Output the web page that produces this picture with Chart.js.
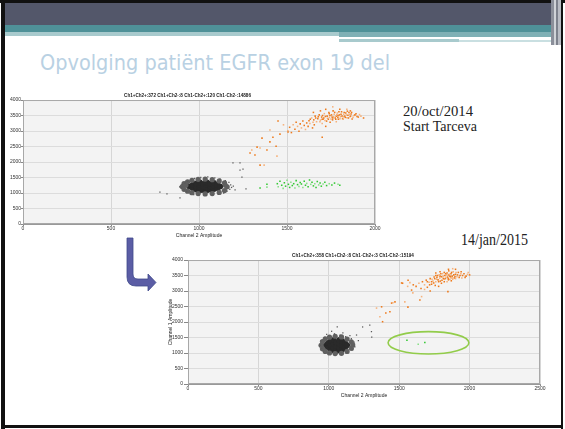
<!DOCTYPE html>
<html>
<head>
<meta charset="utf-8">
<script src="https://cdn.jsdelivr.net/npm/chart.js@4.4.0/dist/chart.umd.min.js"></script>
<style>
  body { margin: 0; width: 565px; height: 429px; overflow: hidden; position: relative; background: #fff; }
  .deco { position: absolute; left: 0; top: 0; }
  #chart1 { position: absolute; left: 0; top: 91px; }
  #chart2 { position: absolute; left: 166px; top: 251px; }
</style>
</head>
<body>
<svg class="deco" width="565" height="429">
  <rect x="0" y="0" width="565" height="3" fill="#111"/>
  <rect x="4" y="3" width="548" height="22" fill="#53576a"/>
  <rect x="4" y="25" width="548" height="7" fill="#4f9198"/>
  <rect x="4" y="32" width="335" height="4" fill="#a8cacd"/>
  <rect x="339" y="32" width="212" height="5" fill="#7fb0b5"/>
  <rect x="339" y="37" width="187" height="1.5" fill="#fff"/>
  <rect x="339" y="39" width="120" height="3" fill="#a8cacd"/>
  <rect x="459" y="40" width="92" height="2" fill="#c9dfe1"/>
  <rect x="551" y="0" width="3" height="45" fill="#8b8f9a"/>
  <rect x="554" y="0" width="2" height="45" fill="#d0d3d8"/>
  <rect x="556" y="0" width="2" height="45" fill="#7d818c"/>
  <rect x="558" y="0" width="3" height="45" fill="#b9bcc4"/>
  <rect x="1" y="0" width="4" height="429" fill="#111"/>
  <rect x="561" y="0" width="2" height="429" fill="#111"/>
  <rect x="1" y="425" width="562" height="3" fill="#111"/>
  <text x="40" y="70" font-family="DejaVu Sans" font-size="21" fill="#b9d1e3"
        textLength="350" lengthAdjust="spacingAndGlyphs">Opvolging patiënt EGFR exon 19 del</text>
  <text x="403" y="116" font-family="Liberation Serif" font-size="14" fill="#222"
        textLength="70" lengthAdjust="spacingAndGlyphs">20/oct/2014</text>
  <text x="403" y="131" font-family="Liberation Serif" font-size="14" fill="#222"
        textLength="74" lengthAdjust="spacingAndGlyphs">Start Tarceva</text>
  <text x="461" y="245" font-family="Liberation Serif" font-size="16" fill="#222"
        textLength="67" lengthAdjust="spacingAndGlyphs">14/jan/2015</text>
  <path d="M127,238 L133,238 L133,274 Q133,279 138,279 L148,279 L148,274 L156,282.5 L148,291 L148,286 L136,286 Q127,286 127,277 Z"
        fill="#5b5da5" stroke="#3f4a8a" stroke-width="0.8"/>
</svg>
<canvas id="chart1" width="390" height="149"></canvas>
<canvas id="chart2" width="382" height="149"></canvas>
<script>
// ---- chart 1 (20/oct/2014) ----
const title1 = 'Ch1+Ch2+:372 Ch1+Ch2-:8 Ch1-Ch2+:120 Ch1-Ch2-:14886';
const xMax1 = 2000;
const ch1BlackCore = [[945,1210],[965,1150],[965,1270],[985,1110],[985,1210],[985,1310],[1005,1090],[1005,1180],[1005,1270],[1005,1340],[1025,1100],[1025,1200],[1025,1290],[1045,1090],[1045,1180],[1045,1270],[1045,1340],[1065,1110],[1065,1210],[1065,1300],[1085,1130],[1085,1230],[1085,1320],[1105,1160],[1105,1260],[1120,1210]];
const ch1BlackHalo = [[905,1210],[915,1120],[915,1300],[935,1060],[935,1360],[960,1010],[960,1410],[995,980],[995,1440],[1035,970],[1035,1450],[1075,980],[1075,1430],[1115,1020],[1115,1390],[1145,1080],[1145,1330],[1160,1200],[925,1250],[1150,1250]];
const ch1BlackDots = [[890,1200],[900,1150],[905,1280],[915,1100],[920,1320],[930,1050],[935,1380],[950,980],[955,1430],[970,950],[975,1470],[1000,930],[1010,1500],[1040,920],[1050,1520],[1080,940],[1090,1490],[1110,960],[1120,1450],[1140,1000],[1150,1400],[1160,1060],[1170,1340],[1175,1120],[1180,1260],[1185,1180],[1195,1220],
  [778,1030],[818,970],[892,840],[1193,1970],[1233,1970],[1250,1770],[1244,1515],[1205,1100],[1267,1130],[1233,1740]];
const ch1Green = [[1347,1160],[1386,1190],[1386,1280],[1445,1300],[1450,1200],[1460,1380],[1470,1250],[1478,1150],[1485,1330],[1492,1220],[1500,1410],[1508,1280],[1515,1180],[1522,1350],[1530,1240],[1538,1300],[1545,1160],[1552,1400],[1560,1270],[1568,1210],[1575,1340],[1582,1290],[1590,1180],[1598,1380],[1605,1250],[1612,1310],[1620,1200],[1628,1420],[1635,1280],[1642,1350],[1650,1230],[1658,1300],[1665,1180],[1672,1370],[1680,1260],[1688,1320],[1695,1220],[1705,1290],[1715,1350],[1725,1240],[1740,1300],[1755,1260],[1770,1320],[1790,1280],[1800,1250]];
const ch1Orange = [[1625,3330],[1640,3420],[1652,3360],[1660,3480],[1668,3300],[1675,3400],[1683,3520],[1690,3350],[1697,3450],[1705,3380],[1712,3560],[1718,3470],[1725,3320],[1730,3410],[1738,3600],[1744,3500],[1750,3390],[1756,3450],[1762,3650],[1768,3540],[1774,3420],[1780,3480],[1786,3580],[1792,3380],[1798,3520],[1804,3460],[1810,3620],[1816,3400],[1822,3540],[1828,3480],[1834,3580],[1840,3430],[1846,3510],[1852,3600],[1858,3460],[1864,3550],[1870,3390],[1880,3500],[1892,3560],[1905,3450],[1920,3480],[1935,3420],
  [1632,3380],[1648,3280],[1663,3420],[1678,3460],[1687,3300],[1702,3500],[1709,3420],[1716,3340],[1728,3480],[1735,3380],[1741,3440],[1753,3520],[1759,3360],[1765,3460],[1771,3600],[1777,3380],[1783,3520],[1789,3440],[1795,3620],[1801,3400],[1807,3540],[1813,3480],[1819,3380],[1825,3600],[1831,3440],[1837,3520],[1843,3640],[1849,3420],[1855,3540],[1861,3480],[1867,3600],[1875,3440],[1886,3520],[1898,3470],[1912,3530],[1760,3420],[1790,3500],[1820,3460],[1740,3560],[1700,3380],
  [1505,3010],[1515,3120],[1525,2950],[1535,3200],[1545,3060],[1552,3280],[1560,3150],[1568,2990],[1575,3230],[1582,3100],[1590,3320],[1598,3180],[1605,3050],[1612,3260],[1620,3150],[1630,3240],[1645,3100],[1655,3200],[1700,3240],[1720,3150],[1745,3280],[1780,3300],[1700,2800],[1800,3700],[1760,3780],[1690,3650],[1650,3600],[1840,3700],[1860,3650],[1720,3700],
  [1300,2390],[1318,2225],[1330,2480],[1347,2450],[1290,2290],[1358,2770],[1403,3030],[1449,3320],[1386,2390],[1443,2190],[1438,2510],[1347,1900],[1370,1900],[1403,2650],[1460,2900],[1480,3200],[1506,2970],[1420,2800]];

// ---- chart 2 (14/jan/2015) ----
const title2 = 'Ch1+Ch2+:358 Ch1+Ch2-:8 Ch1-Ch2+:3 Ch1-Ch2-:15194';
const xMax2 = 2500;
const ch2BlackCore = [[980,1250],[995,1170],[995,1330],[1015,1110],[1015,1250],[1015,1390],[1035,1080],[1035,1180],[1035,1300],[1035,1420],[1055,1100],[1055,1220],[1055,1340],[1075,1080],[1075,1180],[1075,1300],[1075,1420],[1095,1110],[1095,1250],[1095,1380],[1115,1170],[1115,1320],[1130,1250]];
const ch2BlackHalo = [[945,1250],[955,1140],[955,1370],[975,1050],[975,1460],[1005,1000],[1005,1510],[1045,980],[1045,1540],[1090,990],[1090,1520],[1130,1050],[1130,1450],[1160,1150],[1160,1360],[1170,1260]];
const ch2BlackDots = [[940,1250],[950,1150],[945,1400],[970,1500],[1000,1560],[1040,1620],[1080,1580],[1120,1530],[1160,1460],[1180,1350],[1185,1200],[1170,1100],[1130,1020],[1060,980],[1000,1000],[960,1060],[1100,1650],[1020,1700],[1060,1840],[985,1600],[1150,1560],
  [1197,1580],[1240,1840],[1291,1900],[1303,1690],[1305,1516],[1210,1400]];
const ch2Green = [[1555,1410],[1635,1285],[1682,1340]];
const ch2Orange = [[1620,3150],[1640,3250],[1655,3080],[1665,3300],[1680,3200],[1692,3350],[1700,3120],[1712,3280],[1720,3400],[1730,3220],[1740,3320],[1748,3450],[1756,3180],[1764,3380],[1772,3500],[1780,3300],[1788,3420],[1796,3560],[1804,3350],[1812,3480],[1820,3600],[1828,3400],[1836,3520],[1844,3450],[1852,3650],[1860,3380],[1868,3560],[1876,3480],[1884,3620],[1892,3420],[1900,3540],[1910,3460],[1920,3600],[1932,3500],[1945,3420],[1960,3560],[1975,3480],[1990,3600],[2000,3520],[1850,3700],[1880,3720],[1760,3580],[1800,3250],[1840,3300],[1870,3330],[1900,3700],[1820,3380],[1780,3150],[1720,3000],[1680,3050],[1860,3480],[1830,3560],[1810,3420],[1790,3480],[1850,3520],[1870,3420],
  [1700,3300],[1716,3200],[1733,3380],[1745,3260],[1752,3400],[1760,3300],[1768,3440],[1776,3360],[1784,3520],[1792,3320],[1800,3460],[1808,3560],[1816,3400],[1824,3500],[1832,3440],[1840,3580],[1848,3400],[1856,3540],[1864,3460],[1872,3600],[1880,3420],[1888,3520],[1896,3460],[1904,3600],[1914,3520],[1926,3440],[1938,3560],[1950,3500],[1968,3440],[1985,3540],[1820,3300],[1850,3360],[1880,3380],[1760,3500],[1730,3300],[1900,3400],[1940,3620],[1790,3620],
  [1339,2450],[1375,2490],[1405,2290],[1363,2170],[1382,2010],[1446,2610],[1455,2620],[1434,2330],[1470,2650],[1540,2650],[1562,2480],[1524,3250],[1576,3270],[1588,3030],[1647,2710],[1659,2820],[1517,3260],[1563,3350],[1597,2940],[1846,2980],[1600,3200],[1560,3150]];
// green ring drawn round the few double-positive droplets: centre x, centre y, radius x, radius y
const ring2 = [1708, 1329, 287, 361];

const toXY = pts => pts.map(p => ({ x: p[0], y: p[1] }));

function dots(points, color, r, style) {
  return {
    data: toXY(points),
    pointBackgroundColor: color,
    pointBorderWidth: 0,
    pointRadius: r,
    pointStyle: style || 'rect'
  };
}

const plotBg = {
  id: 'plotBg',
  beforeDraw(chart) {
    const { ctx, chartArea: a } = chart;
    ctx.save();
    ctx.fillStyle = '#f3f3f3';
    ctx.fillRect(a.left, a.top, a.right - a.left, a.bottom - a.top);
    ctx.restore();
  },
  afterDraw(chart) {
    const { ctx, chartArea: a } = chart;
    ctx.save();
    ctx.strokeStyle = '#a8a8a8';
    ctx.lineWidth = 1;
    ctx.strokeRect(a.left + 0.5, a.top + 0.5, a.right - a.left - 1, a.bottom - a.top - 1);
    ctx.restore();
  }
};

const ringPlugin = {
  id: 'ring',
  afterDatasetsDraw(chart, args, opts) {
    if (!opts.ring) return;
    const { ctx, scales: { x, y } } = chart;
    const [cx, cy, rx, ry] = opts.ring;
    const px = x.getPixelForValue(cx), py = y.getPixelForValue(cy);
    const prx = Math.abs(x.getPixelForValue(cx + rx) - px);
    const pry = Math.abs(y.getPixelForValue(cy + ry) - py);
    ctx.save();
    ctx.strokeStyle = '#92cc4a';
    ctx.lineWidth = 1.6;
    ctx.beginPath();
    ctx.ellipse(px, py, prx, pry, 0, 0, Math.PI * 2);
    ctx.stroke();
    ctx.restore();
  }
};

const tiny = { size: 5, family: 'Liberation Sans' };
const titleFont = { size: 4.6, family: 'Liberation Sans' };
const orangeCol = c => (c.dataIndex % 3 === 1 ? '#f6b27c' : '#ee7a1c');
const greenCol = c => (c.dataIndex % 3 === 1 ? '#88e088' : '#33c933');
const plain = v => String(v);

function options(title, xMax, yWidth, tickLen, padRight, yTitle, ring) {
  return {
    responsive: false,
    animation: false,
    events: [],
    layout: { padding: { right: padRight } },
    plugins: {
      legend: { display: false },
      tooltip: { enabled: false },
      title: { display: true, text: title, font: titleFont, color: '#222', padding: { top: 2, bottom: 1.5 } },
      ring: { ring: ring }
    },
    scales: {
      x: {
        type: 'linear', min: 0, max: xMax,
        ticks: { stepSize: 500, font: tiny, color: '#333', padding: 0, maxRotation: 0, callback: plain },
        grid: { color: '#d6d6d6', tickLength: 2, tickColor: '#888' },
        border: { color: '#999' },
        title: { display: true, text: 'Channel 2 Amplitude', font: tiny, color: '#222', padding: { top: 0, bottom: 1 } },
        afterFit: s => { s.height = 16; }
      },
      y: {
        min: 0, max: 4000,
        ticks: { stepSize: 500, font: tiny, color: '#333', padding: tickLen === 2 ? 0 : 1, callback: plain },
        grid: { color: '#dcdcdc', tickLength: tickLen, tickColor: '#888' },
        border: { color: '#999' },
        title: { display: !!yTitle, text: yTitle || '', font: tiny, color: '#222', padding: { top: 2, bottom: 0 } },
        afterFit: s => { s.width = yWidth; }
      }
    }
  };
}

new Chart(document.getElementById('chart1'), {
  type: 'scatter',
  data: {
    datasets: [
      dots(ch1BlackDots, '#5a5a5a', 0.9),
      dots(ch1BlackHalo, '#606060', 2.6, 'circle'),
      dots(ch1BlackCore, '#2a2a2a', 3, 'circle'),
      dots(ch1Green, greenCol, 1.1),
      dots(ch1Orange, orangeCol, 1.1)
    ]
  },
  options: options(title1, xMax1, 23, 2, 15, null, null),
  plugins: [plotBg, ringPlugin]
});

new Chart(document.getElementById('chart2'), {
  type: 'scatter',
  data: {
    datasets: [
      dots(ch2BlackDots, '#5a5a5a', 0.9),
      dots(ch2BlackHalo, '#606060', 2.6, 'circle'),
      dots(ch2BlackCore, '#2a2a2a', 3, 'circle'),
      dots(ch2Green, greenCol, 1.1),
      dots(ch2Orange, orangeCol, 1.1)
    ]
  },
  options: options(title2, xMax2, 22, 4, 8, 'Channel 1 Amplitude', ring2),
  plugins: [plotBg, ringPlugin]
});
</script>
</body>
</html>
